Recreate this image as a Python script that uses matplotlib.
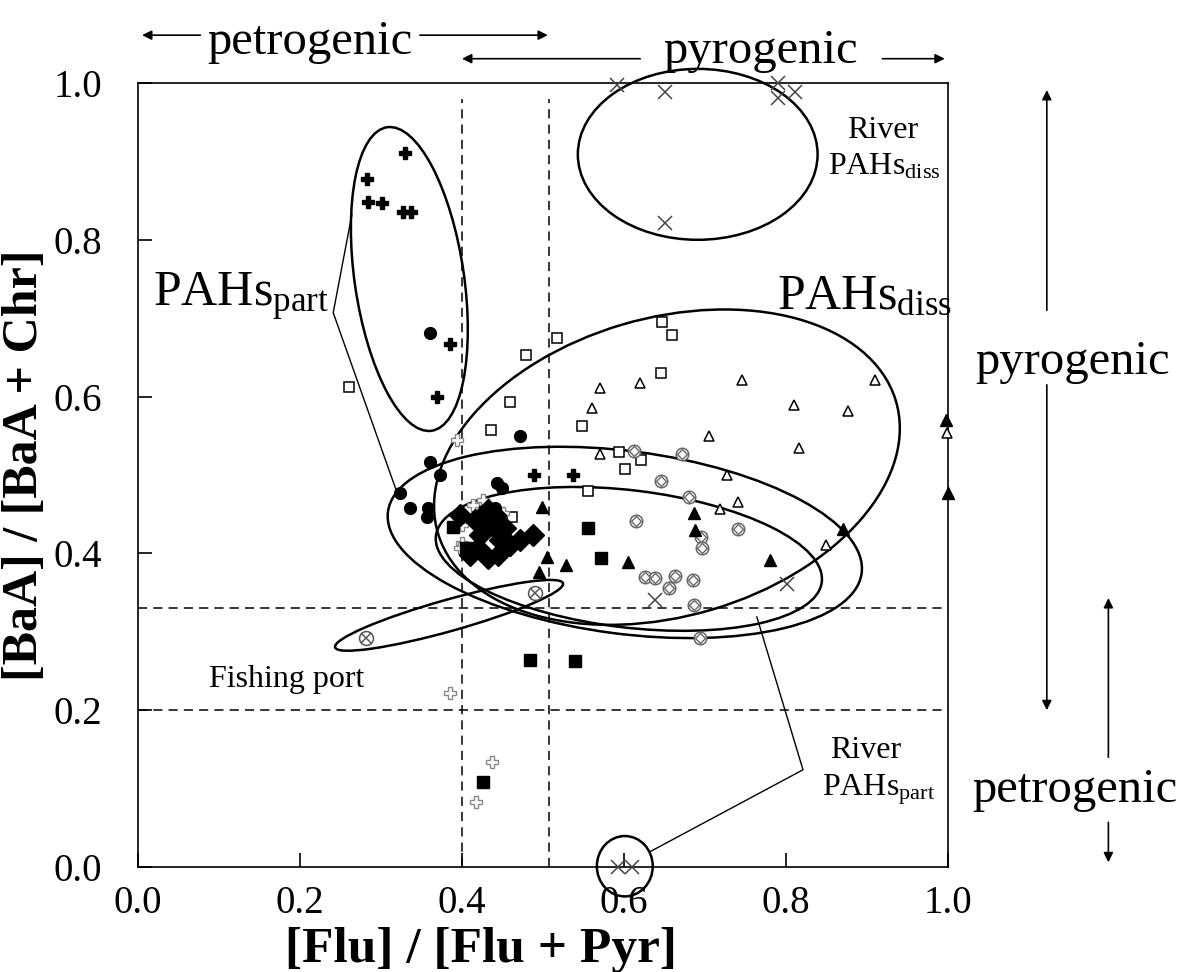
import matplotlib
matplotlib.use("Agg")
import matplotlib.pyplot as plt
from matplotlib.patches import Ellipse

plt.rcParams['font.family'] = ['Liberation Serif', 'DejaVu Serif']
plt.rcParams['mathtext.fontset'] = 'custom'
plt.rcParams['mathtext.rm'] = 'Liberation Serif'
plt.rcParams['mathtext.it'] = 'Liberation Serif:italic'

# ---- data ----
plus_x = [0.330, 0.283, 0.284, 0.301, 0.327, 0.337, 0.385, 0.369, 0.489, 0.537]
plus_y = [0.911, 0.878, 0.848, 0.847, 0.835, 0.835, 0.667, 0.599, 0.500, 0.500]

circ_x = [0.360, 0.472, 0.360, 0.373, 0.323, 0.336, 0.358, 0.357, 0.443, 0.449, 0.441]
circ_y = [0.681, 0.550, 0.517, 0.500, 0.477, 0.458, 0.458, 0.446, 0.490, 0.484, 0.458]

osq_x = [0.261, 0.479, 0.517, 0.647, 0.659, 0.646, 0.459, 0.436, 0.548, 0.594, 0.621, 0.601, 0.556, 0.462]
osq_y = [0.612, 0.653, 0.675, 0.695, 0.679, 0.630, 0.593, 0.557, 0.562, 0.529, 0.519, 0.508, 0.480, 0.446]

otri_x = [0.570, 0.620, 0.560, 0.746, 0.910, 0.810, 0.877, 0.705, 0.816, 0.570, 0.727, 0.741, 0.719, 0.849, 0.999]
otri_y = [0.611, 0.617, 0.585, 0.621, 0.621, 0.589, 0.582, 0.550, 0.534, 0.527, 0.500, 0.466, 0.457, 0.411, 0.554]

ftri_x = [0.499, 0.505, 0.528, 0.495, 0.605, 0.686, 0.688, 0.780, 0.870, 0.998, 1.000]
ftri_y = [0.459, 0.396, 0.385, 0.376, 0.389, 0.452, 0.430, 0.392, 0.431, 0.570, 0.477]

fsq_x = [0.556, 0.572, 0.389, 0.484, 0.540, 0.426, 0.405, 0.428]
fsq_y = [0.432, 0.394, 0.434, 0.264, 0.263, 0.108, 0.407, 0.453]

dia_x = [0.398, 0.416, 0.432, 0.422, 0.437, 0.447, 0.444, 0.432, 0.420, 0.459, 0.472, 0.488, 0.410, 0.453, 0.441]
dia_y = [0.449, 0.443, 0.455, 0.423, 0.436, 0.417, 0.398, 0.394, 0.407, 0.411, 0.417, 0.423, 0.398, 0.432, 0.449]

gcross_x = [0.394, 0.414, 0.426, 0.400, 0.400, 0.398, 0.412, 0.451, 0.422, 0.385, 0.437, 0.417]
gcross_y = [0.545, 0.462, 0.468, 0.436, 0.413, 0.407, 0.398, 0.452, 0.434, 0.222, 0.134, 0.083]

cdia_x = [0.612, 0.672, 0.646, 0.680, 0.615, 0.695, 0.696, 0.741, 0.626, 0.638, 0.663, 0.656, 0.685, 0.686, 0.694]
cdia_y = [0.531, 0.527, 0.492, 0.472, 0.441, 0.421, 0.407, 0.431, 0.370, 0.368, 0.371, 0.356, 0.366, 0.334, 0.292]

xmark_x = [0.591, 0.651, 0.790, 0.790, 0.811, 0.651, 0.638, 0.801, 0.592, 0.610]
xmark_y = [0.997, 0.989, 1.000, 0.981, 0.989, 0.821, 0.341, 0.361, 0.000, 0.000]

port_x = [0.281, 0.490]
port_y = [0.292, 0.349]

# ellipses: (cx, cy, width, height, angle)
ellipses = [
    (0.335, 0.750, 0.391, 0.135, 98.0),    # PAHs part
    (0.691, 0.909, 0.296, 0.218, 0.0),     # river diss
    (0.653, 0.510, 0.590, 0.380, 17.0),    # PAHs diss
    (0.601, 0.414, 0.590, 0.233, -7.7),
    (0.606, 0.393, 0.480, 0.175, -7.1),
    (0.384, 0.321, 0.293, 0.040, 16.2),    # fishing port
    (0.601, 0.001, 0.069, 0.077, 0.0),     # river part
]

fig = plt.figure(figsize=(11.85, 9.72), dpi=100)
ax = fig.add_axes([138 / 1185, 105 / 972, 810 / 1185, 784 / 972])
ax.set_xlim(0, 1)
ax.set_ylim(0, 1)
ax.set_xticks([0, 0.2, 0.4, 0.6, 0.8, 1.0])
ax.set_yticks([0, 0.2, 0.4, 0.6, 0.8, 1.0])
ax.set_xticklabels(['0.0', '0.2', '0.4', '0.6', '0.8', '1.0'])
ax.set_yticklabels(['0.0', '0.2', '0.4', '0.6', '0.8', '1.0'])
ax.tick_params(direction='in', length=10, width=1.2, labelsize=28)
ax.tick_params(axis='x', pad=13)
ax.tick_params(axis='y', pad=26)
for s in ax.spines.values():
    s.set_linewidth(1.2)

# threshold lines
dash = (0, (6, 4))
ax.axvline(0.4, ymax=0.98, color='black', lw=1.1, ls=dash)
ax.axvline(0.507, ymax=0.98, color='black', lw=1.1, ls=dash)
ax.axhline(0.33, color='black', lw=1.1, ls=dash)
ax.axhline(0.2, color='black', lw=1.1, ls=dash)

for cx, cy, w, h, a in ellipses:
    ax.add_patch(Ellipse((cx, cy), w, h, angle=a, fill=False, ec='black', lw=1.8, clip_on=False, zorder=3))

# markers
kw = dict(linestyle='none', clip_on=False, zorder=4)
ax.plot(osq_x, osq_y, 's', ms=7, mfc='white', mec='black', mew=1.1, **kw)
ax.plot(otri_x, otri_y, '^', ms=7.5, mfc='white', mec='black', mew=1.1, **kw)
ax.plot(cdia_x, cdia_y, 'o', ms=9, mfc='white', mec='#666666', mew=1.1, **kw)
ax.plot(cdia_x, cdia_y, 'D', ms=5, mfc='white', mec='#666666', mew=1.0, **kw)
ax.plot(gcross_x, gcross_y, 'P', ms=9, mfc='white', mec='#888888', mew=1.0, **kw)
ax.plot(dia_x, dia_y, 'D', ms=11, mfc='black', mec='black', **kw)
ax.plot(fsq_x, fsq_y, 's', ms=8, mfc='black', mec='black', **kw)
ax.plot(ftri_x, ftri_y, '^', ms=8, mfc='black', mec='black', **kw)
ax.plot(circ_x, circ_y, 'o', ms=8.5, mfc='black', mec='black', **kw)
ax.plot(plus_x, plus_y, 'P', ms=8, mfc='black', mec='black', **kw)
ax.plot(xmark_x, xmark_y, 'x', ms=10, mec='#444444', mew=1.1, **kw)
ax.plot(port_x, port_y, 'o', ms=10, mfc='white', mec='#555555', mew=1.1, **kw)
ax.plot(port_x, port_y, 'x', ms=7, mec='#555555', mew=1.1, **kw)

# leader lines
ax.plot([0.264, 0.241, 0.320], [0.832, 0.707, 0.477], color='black', lw=1.0, zorder=3)
ax.plot([0.764, 0.821, 0.633], [0.319, 0.124, 0.020], color='black', lw=1.0, zorder=3)

# labels inside
ax.text(0.019, 0.727, r'PAHs$_{\mathrm{part}}$', fontsize=36, va='center', ha='left')
ax.text(0.789, 0.727, r'PAHs$_{\mathrm{diss}}$', fontsize=36, va='center', ha='left')
ax.text(0.919, 0.940, 'River', fontsize=23, ha='center', va='center')
ax.text(0.852, 0.893, r'PAHs$_{\mathrm{diss}}$', fontsize=23, ha='left', va='center')
ax.text(0.184, 0.239, 'Fishing port', fontsize=23, ha='center', va='center')
ax.text(0.898, 0.149, 'River', fontsize=23, ha='center', va='center')
ax.text(0.845, 0.098, r'PAHs$_{\mathrm{part}}$', fontsize=23, ha='left', va='center')

# outside annotations
arr = dict(arrowstyle='-|>', color='black', lw=1.2, mutation_scale=14, shrinkA=0, shrinkB=0)
ax.text(0.212, 1.052, 'petrogenic', fontsize=35, ha='center', va='center', clip_on=False)
ax.annotate('', xy=(0.005, 1.061), xytext=(0.077, 1.061), arrowprops=arr, annotation_clip=False)
ax.annotate('', xy=(0.506, 1.061), xytext=(0.348, 1.061), arrowprops=arr, annotation_clip=False)
ax.text(0.768, 1.041, 'pyrogenic', fontsize=35, ha='center', va='center', clip_on=False)
ax.annotate('', xy=(0.400, 1.031), xytext=(0.620, 1.031), arrowprops=arr, annotation_clip=False)
ax.annotate('', xy=(0.996, 1.031), xytext=(0.919, 1.031), arrowprops=arr, annotation_clip=False)

ax.text(1.154, 0.644, 'pyrogenic', fontsize=35, ha='center', va='center', clip_on=False)
ax.annotate('', xy=(1.122, 0.991), xytext=(1.122, 0.710), arrowprops=arr, annotation_clip=False)
ax.annotate('', xy=(1.122, 0.200), xytext=(1.122, 0.615), arrowprops=arr, annotation_clip=False)
ax.text(1.157, 0.098, 'petrogenic', fontsize=35, ha='center', va='center', clip_on=False)
ax.annotate('', xy=(1.198, 0.343), xytext=(1.198, 0.140), arrowprops=arr, annotation_clip=False)
ax.annotate('', xy=(1.198, 0.006), xytext=(1.198, 0.057), arrowprops=arr, annotation_clip=False)

# axis titles
ax.text(0.423, -0.106, '[Flu] / [Flu + Pyr]', fontsize=37, fontweight='bold', ha='center', va='center', clip_on=False)
ax.text(-0.139, 0.513, '[BaA] / [BaA + Chr]', fontsize=36, fontweight='bold', rotation=90, ha='center', va='center', clip_on=False)

fig.savefig('out.png', dpi=100)
